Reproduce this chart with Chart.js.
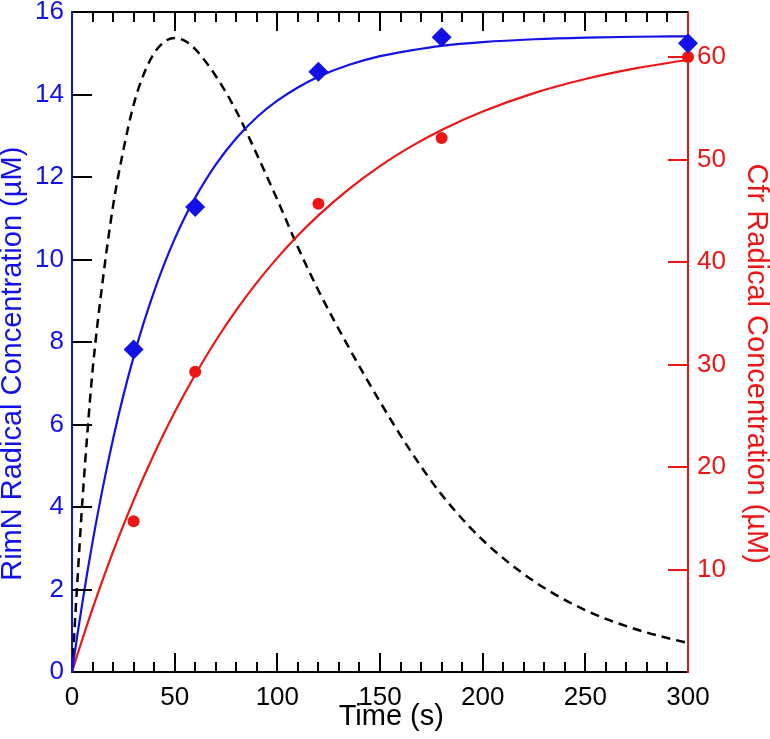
<!DOCTYPE html>
<html>
<head>
<meta charset="utf-8">
<script src="https://cdn.jsdelivr.net/npm/chart.js@4"></script>
<style>
  html, body { margin: 0; padding: 0; background: #fff; }
  #wrap { width: 770px; height: 739px; }
</style>
</head>
<body>
<div id="wrap"><canvas id="kinetics" width="770" height="739"></canvas></div>
<script>
const fitTimes = [0, 2.5, 5, 7.5, 10, 15, 20, 25, 30, 35, 40, 45, 50, 55, 60, 70, 80, 90, 100, 110, 120, 135, 150, 165, 180, 200, 225, 250, 275, 300];
// RimN fit (left axis, µM)
const rimnFit = [0, 0.86, 1.66, 2.43, 3.15, 4.47, 5.65, 6.7, 7.64, 8.48, 9.23, 9.9, 10.5, 11.03, 11.5, 12.3, 12.94, 13.45, 13.85, 14.17, 14.43, 14.72, 14.93, 15.07, 15.18, 15.27, 15.34, 15.38, 15.4, 15.41];
// Cfr fit (right axis, µM)
const cfrFit = [0, 1.61, 3.17, 4.69, 6.18, 9.03, 11.74, 14.31, 16.75, 19.07, 21.27, 23.36, 25.34, 27.22, 29.01, 32.32, 35.3, 37.99, 40.41, 42.59, 44.56, 47.15, 49.37, 51.26, 52.89, 54.69, 56.48, 57.86, 58.92, 59.74];
// dashed intermediate curve (left axis)
const intermediate = [0, 2.1, 4.1, 5.8, 7.3, 9.5, 11.3, 12.65, 13.75, 14.5, 15.0, 15.28, 15.37, 15.3, 15.1, 14.45, 13.6, 12.55, 11.45, 10.3, 9.25, 7.85, 6.55, 5.35, 4.3, 3.2, 2.2, 1.5, 1.03, 0.7];

// measured points
const sampleTimes = [30, 60, 120, 180, 300];
const rimnPoints = [7.82, 11.27, 14.55, 15.39, 15.24];
const cfrPoints = [14.7, 29.3, 45.7, 52.1, 60.0];

const xTicks = [0, 50, 100, 150, 200, 250, 300];
const yTicks = [0, 2, 4, 6, 8, 10, 12, 14, 16];
const y2Ticks = [10, 20, 30, 40, 50, 60];

const BLUE = 'rgb(18,18,232)';
const RED = 'rgb(236,22,22)';
const FONT = 'Liberation Sans, Arial, sans-serif';

const pts = (xs, ys) => xs.map((x, i) => ({ x: x, y: ys[i] }));

// inside tick marks + top frame line, drawn from the scales
const innerTicks = {
    id: 'innerTicks',
    afterDatasetsDraw(chart) {
        const { ctx, chartArea: a, scales } = chart;
        ctx.save();
        ctx.lineWidth = 2;
        ctx.strokeStyle = '#000';
        ctx.beginPath();
        ctx.moveTo(a.left, a.top);
        ctx.lineTo(a.right, a.top);
        for (let v = 10; v < 300; v += 10) {
            const px = Math.round(scales.x.getPixelForValue(v));
            const len = v % 50 === 0 ? 19 : 10;
            ctx.moveTo(px, a.bottom);
            ctx.lineTo(px, a.bottom - len);
            ctx.moveTo(px, a.top);
            ctx.lineTo(px, a.top + len);
        }
        yTicks.forEach(v => {
            if (v === 0 || v === 16) return;
            const py = Math.round(scales.y.getPixelForValue(v));
            ctx.moveTo(a.left, py);
            ctx.lineTo(a.left + 20, py);
        });
        ctx.stroke();
        ctx.strokeStyle = RED;
        ctx.beginPath();
        y2Ticks.forEach(v => {
            const py = Math.round(scales.y2.getPixelForValue(v));
            ctx.moveTo(a.right, py);
            ctx.lineTo(a.right - 20, py);
        });
        ctx.stroke();
        ctx.restore();
    }
};

const noEdgePad = s => { s.paddingTop = 0; s.paddingBottom = 0; s.paddingLeft = 0; s.paddingRight = 0; };

const ctx = document.getElementById('kinetics').getContext('2d');
new Chart(ctx, {
    type: 'line',
    data: {
        datasets: [
            {
                label: 'RimN points',
                type: 'scatter',
                data: pts(sampleTimes, rimnPoints),
                yAxisID: 'y',
                pointStyle: 'rectRot',
                pointRadius: 10,
                backgroundColor: BLUE,
                borderColor: BLUE,
                borderWidth: 0,
                clip: false,
                order: 1
            },
            {
                label: 'Cfr points',
                type: 'scatter',
                data: pts(sampleTimes, cfrPoints),
                yAxisID: 'y2',
                pointStyle: 'circle',
                pointRadius: 6,
                backgroundColor: RED,
                borderColor: RED,
                borderWidth: 0,
                clip: false,
                order: 2
            },
            {
                label: 'RimN fit',
                data: pts(fitTimes, rimnFit),
                yAxisID: 'y',
                borderColor: BLUE,
                borderWidth: 2.2,
                pointRadius: 0,
                cubicInterpolationMode: 'monotone',
                order: 3
            },
            {
                label: 'Cfr fit',
                data: pts(fitTimes, cfrFit),
                yAxisID: 'y2',
                borderColor: RED,
                borderWidth: 2.2,
                pointRadius: 0,
                cubicInterpolationMode: 'monotone',
                order: 4
            },
            {
                label: 'Intermediate',
                data: pts(fitTimes, intermediate),
                yAxisID: 'y',
                borderColor: '#000',
                borderWidth: 2.5,
                borderDash: [9, 6],
                pointRadius: 0,
                cubicInterpolationMode: 'monotone',
                order: 5
            }
        ]
    },
    options: {
        responsive: false,
        animation: false,
        layout: { padding: { top: 12, left: 0, right: 0, bottom: 0 } },
        plugins: {
            legend: { display: false },
            tooltip: { enabled: false }
        },
        scales: {
            x: {
                type: 'linear',
                min: 0,
                max: 300,
                afterFit: s => { s.height = 67; noEdgePad(s); },
                afterBuildTicks: s => { s.ticks = xTicks.map(v => ({ value: v })); },
                grid: { display: false, drawTicks: false },
                border: { display: true, color: '#000', width: 2 },
                ticks: { color: '#000', padding: 10, maxRotation: 0, font: { family: FONT, size: 26 } },
                title: {
                    display: true,
                    text: '\u2002 Time (s)',
                    color: '#000',
                    padding: { top: 0, bottom: 8 },
                    font: { family: FONT, size: 29, lineHeight: 1 }
                }
            },
            y: {
                position: 'left',
                min: 0,
                max: 16,
                afterFit: s => { s.width = 72; noEdgePad(s); },
                afterBuildTicks: s => { s.ticks = yTicks.map(v => ({ value: v })); },
                grid: { display: false, drawTicks: false },
                border: { display: true, color: BLUE, width: 2 },
                ticks: { color: BLUE, padding: 8, font: { family: FONT, size: 26 } },
                title: {
                    display: true,
                    text: 'RimN Radical Concentration (µM)\u2002\u2002\u2002',
                    color: BLUE,
                    padding: { top: 0, bottom: 0 },
                    font: { family: FONT, size: 29, lineHeight: 0.9 }
                }
            },
            y2: {
                position: 'right',
                min: 0,
                max: 64.4,
                afterFit: s => { s.width = 82; noEdgePad(s); },
                afterBuildTicks: s => { s.ticks = y2Ticks.map(v => ({ value: v })); },
                grid: { display: false, drawTicks: false },
                border: { display: true, color: RED, width: 2 },
                ticks: { color: RED, padding: 9, font: { family: FONT, size: 26 } },
                title: {
                    display: true,
                    text: '\u2002\u2002\u2002Cfr Radical Concentration (µM)',
                    color: RED,
                    padding: { top: 0, bottom: 0 },
                    font: { family: FONT, size: 29, lineHeight: 1 }
                }
            }
        }
    },
    plugins: [innerTicks]
});
</script>
</body>
</html>
